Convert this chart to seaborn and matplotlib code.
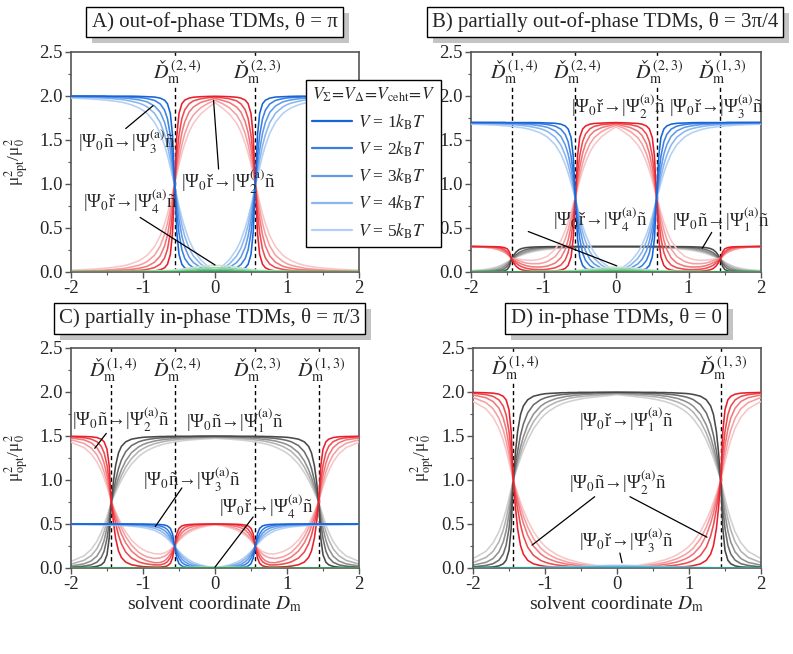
import matplotlib
matplotlib.use("Agg")
import matplotlib.pyplot as plt
import matplotlib.ticker as mticker
from matplotlib.lines import Line2D
from matplotlib.patches import Rectangle
from matplotlib.transforms import IdentityTransform
import pandas as pd
import seaborn as sns

# ---- data (half curves for Dm >= 0, the panels are mirror symmetric) ----
v_levels = ["1", "2", "3", "4", "5"]

x_half = [0, 0.1, 0.2, 0.3, 0.36, 0.42, 0.46, 0.5, 0.53, 0.56, 0.59, 0.62, 0.66, 0.7, 0.76, 0.84, 0.94,
          1.0, 1.06, 1.16, 1.24, 1.3, 1.34, 1.38, 1.41, 1.44, 1.47, 1.5, 1.54, 1.58, 1.64, 1.72, 1.82, 2.0]
x_small = [0, 0.1, 0.2, 0.3, 0.4, 0.5, 0.6, 0.8, 1.0, 1.3, 1.6, 2.0]

# A) out-of-phase, theta = pi
a_blue = [
    [0.0, 0.002, 0.006, 0.013, 0.023, 0.047, 0.087, 0.2, 0.446, 1.0, 1.554, 1.8, 1.912, 1.952, 1.976, 1.988, 1.992, 1.994, 1.996, 1.998, 1.998, 1.998, 1.998, 1.998, 1.998, 1.998, 1.998, 1.998, 2.0, 2.0, 2.0, 2.0, 2.0, 2.0],
    [0.0, 0.009, 0.023, 0.049, 0.084, 0.154, 0.252, 0.442, 0.68, 0.997, 1.313, 1.551, 1.741, 1.839, 1.909, 1.95, 1.97, 1.978, 1.982, 1.986, 1.99, 1.99, 1.992, 1.992, 1.992, 1.993, 1.994, 1.994, 1.995, 1.995, 1.995, 1.996, 1.997, 1.998],
    [0.0, 0.022, 0.051, 0.107, 0.169, 0.282, 0.409, 0.597, 0.782, 0.992, 1.202, 1.386, 1.575, 1.70, 1.813, 1.887, 1.932, 1.946, 1.956, 1.968, 1.975, 1.977, 1.979, 1.981, 1.981, 1.983, 1.983, 1.983, 1.986, 1.986, 1.988, 1.988, 1.99, 1.993],
    [0.0, 0.038, 0.092, 0.181, 0.269, 0.406, 0.533, 0.695, 0.835, 0.984, 1.133, 1.274, 1.435, 1.561, 1.697, 1.804, 1.875, 1.902, 1.92, 1.94, 1.953, 1.96, 1.962, 1.966, 1.969, 1.971, 1.971, 1.974, 1.976, 1.978, 1.98, 1.983, 1.985, 1.988],
    [0.0, 0.064, 0.14, 0.258, 0.362, 0.504, 0.618, 0.75, 0.86, 0.972, 1.083, 1.19, 1.324, 1.438, 1.576, 1.702, 1.8, 1.837, 1.866, 1.9, 1.919, 1.93, 1.934, 1.94, 1.944, 1.946, 1.948, 1.952, 1.955, 1.957, 1.962, 1.966, 1.97, 1.976],
]
a_red = [
    [1.997, 1.995, 1.992, 1.986, 1.976, 1.953, 1.913, 1.8, 1.554, 1.0, 0.446, 0.2, 0.088, 0.048, 0.024, 0.012, 0.008, 0.006, 0.004, 0.002, 0.002, 0.002, 0.002, 0.002, 0.002, 0.002, 0.002, 0.002, 0.0, 0.0, 0.0, 0.0, 0.0, 0.0],
    [1.988, 1.98, 1.968, 1.945, 1.911, 1.842, 1.745, 1.556, 1.318, 1.001, 0.686, 0.448, 0.258, 0.16, 0.09, 0.05, 0.03, 0.022, 0.018, 0.014, 0.01, 0.01, 0.008, 0.008, 0.008, 0.007, 0.006, 0.006, 0.005, 0.005, 0.005, 0.004, 0.003, 0.002],
    [1.972, 1.951, 1.926, 1.875, 1.817, 1.707, 1.582, 1.396, 1.212, 1.003, 0.793, 0.61, 0.421, 0.297, 0.184, 0.111, 0.066, 0.052, 0.042, 0.03, 0.024, 0.022, 0.02, 0.018, 0.018, 0.016, 0.016, 0.016, 0.013, 0.013, 0.011, 0.011, 0.009, 0.006],
    [1.951, 1.915, 1.866, 1.785, 1.702, 1.57, 1.447, 1.288, 1.15, 1.003, 0.855, 0.715, 0.555, 0.43, 0.296, 0.19, 0.12, 0.094, 0.076, 0.057, 0.044, 0.037, 0.035, 0.031, 0.028, 0.026, 0.026, 0.023, 0.022, 0.02, 0.018, 0.015, 0.013, 0.01],
    [1.925, 1.864, 1.795, 1.69, 1.593, 1.459, 1.35, 1.222, 1.115, 1.006, 0.897, 0.792, 0.66, 0.548, 0.412, 0.288, 0.192, 0.156, 0.128, 0.095, 0.076, 0.066, 0.062, 0.056, 0.052, 0.05, 0.048, 0.045, 0.042, 0.04, 0.035, 0.031, 0.027, 0.021],
]
a_green = [
    [0.003, 0.003, 0.002, 0.001, 0.001, 0.0, 0.0, 0.0, 0.0, 0.0, 0.0, 0.0],
    [0.012, 0.011, 0.009, 0.006, 0.004, 0.002, 0.002, 0.001, 0.001, 0.001, 0.0, 0.0],
    [0.028, 0.027, 0.023, 0.018, 0.013, 0.007, 0.005, 0.003, 0.002, 0.001, 0.001, 0.001],
    [0.049, 0.047, 0.042, 0.034, 0.026, 0.017, 0.012, 0.007, 0.004, 0.003, 0.002, 0.002],
    [0.075, 0.072, 0.065, 0.052, 0.04, 0.028, 0.02, 0.012, 0.007, 0.005, 0.004, 0.003],
]

# B) partially out-of-phase, theta = 3pi/4
b_blue = [
    [0.0, 0.002, 0.005, 0.011, 0.02, 0.04, 0.074, 0.17, 0.379, 0.85, 1.321, 1.53, 1.625, 1.659, 1.68, 1.69, 1.693, 1.695, 1.697, 1.698, 1.698, 1.698, 1.698, 1.698, 1.698, 1.698, 1.698, 1.698, 1.7, 1.7, 1.7, 1.7, 1.7, 1.7],
    [0.0, 0.008, 0.02, 0.042, 0.071, 0.131, 0.214, 0.376, 0.578, 0.847, 1.116, 1.318, 1.48, 1.563, 1.623, 1.658, 1.675, 1.681, 1.685, 1.688, 1.692, 1.692, 1.693, 1.693, 1.693, 1.694, 1.695, 1.695, 1.696, 1.696, 1.696, 1.697, 1.697, 1.698],
    [0.0, 0.019, 0.043, 0.091, 0.144, 0.24, 0.348, 0.507, 0.665, 0.843, 1.022, 1.178, 1.339, 1.445, 1.541, 1.604, 1.642, 1.654, 1.663, 1.673, 1.679, 1.68, 1.682, 1.684, 1.684, 1.686, 1.686, 1.686, 1.688, 1.688, 1.69, 1.69, 1.692, 1.694],
    [0.0, 0.032, 0.078, 0.154, 0.229, 0.345, 0.453, 0.591, 0.71, 0.836, 0.963, 1.083, 1.22, 1.327, 1.442, 1.533, 1.594, 1.617, 1.632, 1.649, 1.66, 1.666, 1.668, 1.671, 1.674, 1.675, 1.675, 1.678, 1.68, 1.681, 1.683, 1.686, 1.687, 1.69],
    [0.0, 0.054, 0.119, 0.219, 0.308, 0.428, 0.525, 0.638, 0.731, 0.826, 0.921, 1.012, 1.125, 1.222, 1.34, 1.447, 1.53, 1.561, 1.586, 1.615, 1.631, 1.641, 1.644, 1.649, 1.652, 1.654, 1.656, 1.659, 1.662, 1.663, 1.668, 1.671, 1.675, 1.68],
]
b_red = [
    [1.698, 1.696, 1.692, 1.688, 1.68, 1.659, 1.625, 1.53, 1.321, 0.85, 0.379, 0.17, 0.075, 0.041, 0.021, 0.012, 0.009, 0.008, 0.008, 0.009, 0.015, 0.025, 0.039, 0.067, 0.101, 0.147, 0.227, 0.263, 0.277, 0.283, 0.287, 0.288, 0.289, 0.29],
    [1.692, 1.682, 1.673, 1.655, 1.627, 1.568, 1.484, 1.323, 1.121, 0.852, 0.584, 0.382, 0.221, 0.138, 0.079, 0.047, 0.032, 0.027, 0.027, 0.031, 0.042, 0.06, 0.076, 0.102, 0.125, 0.15, 0.194, 0.228, 0.256, 0.27, 0.28, 0.286, 0.288, 0.29],
    [1.681, 1.662, 1.64, 1.601, 1.551, 1.456, 1.349, 1.19, 1.034, 0.852, 0.678, 0.521, 0.362, 0.256, 0.162, 0.101, 0.068, 0.06, 0.056, 0.059, 0.072, 0.089, 0.105, 0.123, 0.14, 0.152, 0.185, 0.212, 0.238, 0.257, 0.271, 0.282, 0.286, 0.289],
    [1.667, 1.637, 1.595, 1.527, 1.456, 1.343, 1.236, 1.1, 0.981, 0.852, 0.733, 0.615, 0.48, 0.374, 0.262, 0.175, 0.122, 0.105, 0.095, 0.094, 0.102, 0.116, 0.129, 0.142, 0.15, 0.152, 0.18, 0.203, 0.225, 0.241, 0.26, 0.274, 0.283, 0.29],
    [1.65, 1.598, 1.538, 1.446, 1.362, 1.247, 1.153, 1.043, 0.95, 0.853, 0.765, 0.675, 0.565, 0.472, 0.358, 0.258, 0.182, 0.16, 0.143, 0.132, 0.135, 0.14, 0.145, 0.15, 0.152, 0.155, 0.18, 0.2, 0.222, 0.238, 0.255, 0.27, 0.281, 0.29],
]
b_gray = [
    [0.29, 0.29, 0.29, 0.29, 0.29, 0.29, 0.29, 0.29, 0.29, 0.29, 0.29, 0.29, 0.29, 0.289, 0.289, 0.288, 0.288, 0.287, 0.286, 0.283, 0.277, 0.267, 0.253, 0.225, 0.191, 0.145, 0.065, 0.029, 0.013, 0.007, 0.003, 0.002, 0.001, 0.001],
    [0.289, 0.289, 0.289, 0.289, 0.288, 0.288, 0.288, 0.288, 0.288, 0.287, 0.287, 0.287, 0.287, 0.286, 0.286, 0.284, 0.282, 0.28, 0.277, 0.269, 0.255, 0.237, 0.219, 0.193, 0.17, 0.145, 0.099, 0.065, 0.037, 0.023, 0.013, 0.007, 0.004, 0.002],
    [0.288, 0.288, 0.287, 0.287, 0.286, 0.286, 0.286, 0.285, 0.285, 0.284, 0.284, 0.284, 0.283, 0.282, 0.281, 0.279, 0.275, 0.271, 0.266, 0.253, 0.235, 0.216, 0.199, 0.179, 0.162, 0.145, 0.115, 0.088, 0.061, 0.042, 0.026, 0.015, 0.009, 0.004],
    [0.287, 0.286, 0.285, 0.284, 0.284, 0.283, 0.283, 0.282, 0.282, 0.281, 0.281, 0.28, 0.279, 0.278, 0.276, 0.273, 0.267, 0.262, 0.256, 0.24, 0.222, 0.203, 0.188, 0.172, 0.159, 0.145, 0.124, 0.103, 0.08, 0.062, 0.042, 0.027, 0.017, 0.008],
    [0.285, 0.284, 0.283, 0.282, 0.281, 0.28, 0.279, 0.278, 0.278, 0.277, 0.276, 0.275, 0.274, 0.273, 0.27, 0.266, 0.258, 0.252, 0.245, 0.228, 0.21, 0.193, 0.18, 0.166, 0.156, 0.145, 0.129, 0.114, 0.095, 0.078, 0.059, 0.041, 0.027, 0.015],
]
b_green = [
    [0.002, 0.002, 0.001, 0.001, 0.0, 0.0, 0.0, 0.0, 0.0, 0.0, 0.0, 0.0],
    [0.009, 0.008, 0.006, 0.004, 0.003, 0.002, 0.001, 0.001, 0.0, 0.0, 0.0, 0.0],
    [0.02, 0.019, 0.017, 0.013, 0.009, 0.005, 0.004, 0.002, 0.001, 0.001, 0.001, 0.001],
    [0.036, 0.035, 0.031, 0.025, 0.019, 0.013, 0.009, 0.005, 0.003, 0.002, 0.002, 0.001],
    [0.055, 0.053, 0.048, 0.038, 0.03, 0.021, 0.015, 0.009, 0.006, 0.004, 0.003, 0.002],
]

# C) partially in-phase, theta = pi/3
c_red = [
    [0.5, 0.499, 0.498, 0.497, 0.494, 0.488, 0.478, 0.45, 0.389, 0.252, 0.115, 0.053, 0.025, 0.016, 0.01, 0.01, 0.013, 0.016, 0.022, 0.037, 0.067, 0.12, 0.193, 0.336, 0.514, 0.751, 1.166, 1.35, 1.434, 1.464, 1.482, 1.491, 1.494, 1.497],
    [0.5, 0.498, 0.495, 0.49, 0.481, 0.464, 0.44, 0.393, 0.333, 0.254, 0.178, 0.118, 0.072, 0.05, 0.035, 0.035, 0.045, 0.055, 0.07, 0.113, 0.181, 0.275, 0.371, 0.506, 0.622, 0.752, 0.988, 1.167, 1.309, 1.383, 1.435, 1.465, 1.48, 1.492],
    [0.498, 0.494, 0.487, 0.472, 0.457, 0.43, 0.399, 0.352, 0.305, 0.252, 0.202, 0.158, 0.112, 0.082, 0.062, 0.06, 0.08, 0.1, 0.125, 0.193, 0.285, 0.387, 0.474, 0.578, 0.663, 0.752, 0.911, 1.049, 1.19, 1.284, 1.367, 1.423, 1.456, 1.478],
    [0.495, 0.488, 0.473, 0.448, 0.425, 0.393, 0.362, 0.322, 0.288, 0.253, 0.222, 0.192, 0.158, 0.135, 0.115, 0.108, 0.125, 0.148, 0.178, 0.26, 0.356, 0.455, 0.53, 0.616, 0.683, 0.752, 0.866, 0.971, 1.09, 1.185, 1.285, 1.364, 1.416, 1.458],
    [0.49, 0.479, 0.46, 0.43, 0.405, 0.372, 0.345, 0.313, 0.284, 0.256, 0.232, 0.21, 0.188, 0.172, 0.16, 0.162, 0.185, 0.208, 0.24, 0.318, 0.41, 0.497, 0.564, 0.637, 0.694, 0.751, 0.845, 0.922, 1.02, 1.104, 1.205, 1.297, 1.368, 1.43],
]
c_gray = [
    [1.499, 1.499, 1.499, 1.497, 1.497, 1.497, 1.497, 1.497, 1.497, 1.496, 1.496, 1.496, 1.496, 1.494, 1.494, 1.491, 1.488, 1.485, 1.479, 1.464, 1.434, 1.382, 1.308, 1.166, 0.987, 0.75, 0.335, 0.15, 0.066, 0.036, 0.018, 0.009, 0.006, 0.003],
    [1.496, 1.494, 1.493, 1.493, 1.491, 1.49, 1.49, 1.488, 1.488, 1.487, 1.485, 1.485, 1.484, 1.481, 1.478, 1.472, 1.46, 1.449, 1.434, 1.391, 1.322, 1.227, 1.131, 0.996, 0.881, 0.75, 0.513, 0.335, 0.192, 0.119, 0.066, 0.036, 0.021, 0.009],
    [1.49, 1.488, 1.485, 1.484, 1.481, 1.479, 1.478, 1.475, 1.473, 1.472, 1.47, 1.467, 1.464, 1.461, 1.454, 1.443, 1.421, 1.403, 1.377, 1.31, 1.218, 1.116, 1.029, 0.926, 0.84, 0.75, 0.593, 0.455, 0.314, 0.219, 0.135, 0.08, 0.047, 0.023],
    [1.482, 1.479, 1.476, 1.472, 1.469, 1.466, 1.463, 1.46, 1.458, 1.455, 1.452, 1.449, 1.445, 1.439, 1.428, 1.412, 1.382, 1.356, 1.325, 1.244, 1.148, 1.05, 0.974, 0.888, 0.821, 0.75, 0.639, 0.534, 0.414, 0.32, 0.219, 0.14, 0.087, 0.044],
    [1.473, 1.469, 1.464, 1.458, 1.454, 1.449, 1.445, 1.44, 1.437, 1.433, 1.428, 1.424, 1.418, 1.41, 1.397, 1.374, 1.335, 1.305, 1.266, 1.181, 1.086, 0.998, 0.932, 0.861, 0.806, 0.75, 0.668, 0.588, 0.489, 0.405, 0.303, 0.21, 0.138, 0.075],
]
c_blue = [
    [0.0, 0.001, 0.002, 0.003, 0.006, 0.012, 0.022, 0.05, 0.112, 0.25, 0.389, 0.45, 0.478, 0.488, 0.494, 0.497, 0.498, 0.499, 0.499, 0.5, 0.5, 0.5, 0.5, 0.5, 0.5, 0.5, 0.5, 0.5, 0.5, 0.5, 0.5, 0.5, 0.5, 0.5],
    [0.0, 0.002, 0.006, 0.012, 0.021, 0.039, 0.063, 0.111, 0.17, 0.249, 0.328, 0.388, 0.435, 0.46, 0.477, 0.488, 0.493, 0.495, 0.496, 0.497, 0.498, 0.498, 0.498, 0.498, 0.498, 0.498, 0.499, 0.499, 0.499, 0.499, 0.499, 0.499, 0.499, 0.5],
    [0.0, 0.006, 0.013, 0.027, 0.042, 0.071, 0.102, 0.149, 0.196, 0.248, 0.301, 0.347, 0.394, 0.425, 0.453, 0.472, 0.483, 0.487, 0.489, 0.492, 0.494, 0.494, 0.495, 0.495, 0.495, 0.496, 0.496, 0.496, 0.497, 0.497, 0.497, 0.497, 0.498, 0.498],
    [0.0, 0.01, 0.023, 0.045, 0.067, 0.102, 0.133, 0.174, 0.209, 0.246, 0.283, 0.319, 0.359, 0.39, 0.424, 0.451, 0.469, 0.476, 0.48, 0.485, 0.488, 0.49, 0.491, 0.492, 0.492, 0.493, 0.493, 0.494, 0.494, 0.495, 0.495, 0.496, 0.496, 0.497],
    [0.0, 0.016, 0.035, 0.065, 0.091, 0.126, 0.155, 0.188, 0.215, 0.243, 0.271, 0.298, 0.331, 0.36, 0.394, 0.426, 0.45, 0.459, 0.467, 0.475, 0.48, 0.483, 0.484, 0.485, 0.486, 0.487, 0.487, 0.488, 0.489, 0.489, 0.491, 0.492, 0.493, 0.494],
]
c_green = [
    [0.001, 0.001, 0.001, 0.001, 0.001, 0.0, 0.0, 0.0, 0.0, 0.0, 0.0, 0.0],
    [0.002, 0.002, 0.002, 0.001, 0.001, 0.001, 0.001, 0.0, 0.0, 0.0, 0.0, 0.0],
    [0.004, 0.004, 0.003, 0.003, 0.002, 0.002, 0.001, 0.001, 0.001, 0.001, 0.0, 0.0],
    [0.006, 0.006, 0.005, 0.004, 0.004, 0.003, 0.002, 0.002, 0.001, 0.001, 0.001, 0.001],
    [0.01, 0.01, 0.009, 0.008, 0.006, 0.004, 0.003, 0.002, 0.002, 0.002, 0.002, 0.002],
]

# D) in-phase, theta = 0
d_red = [
    [0.0, 0.001, 0.001, 0.002, 0.003, 0.003, 0.003, 0.003, 0.003, 0.005, 0.005, 0.005, 0.005, 0.007, 0.007, 0.011, 0.015, 0.019, 0.027, 0.047, 0.087, 0.157, 0.255, 0.445, 0.683, 0.999, 1.553, 1.799, 1.911, 1.951, 1.975, 1.987, 1.991, 1.995],
    [0.0, 0.002, 0.005, 0.005, 0.008, 0.01, 0.01, 0.012, 0.012, 0.014, 0.016, 0.016, 0.019, 0.023, 0.027, 0.035, 0.051, 0.066, 0.086, 0.144, 0.236, 0.362, 0.49, 0.67, 0.824, 0.998, 1.314, 1.552, 1.742, 1.84, 1.91, 1.95, 1.97, 1.987],
    [0.0, 0.003, 0.008, 0.012, 0.016, 0.019, 0.021, 0.026, 0.028, 0.03, 0.032, 0.037, 0.041, 0.045, 0.056, 0.07, 0.1, 0.125, 0.159, 0.249, 0.372, 0.508, 0.624, 0.762, 0.876, 0.996, 1.206, 1.39, 1.578, 1.704, 1.816, 1.891, 1.935, 1.967],
    [0.0, 0.007, 0.013, 0.021, 0.026, 0.031, 0.036, 0.041, 0.043, 0.047, 0.052, 0.056, 0.062, 0.071, 0.086, 0.108, 0.149, 0.183, 0.226, 0.334, 0.463, 0.593, 0.695, 0.81, 0.9, 0.994, 1.142, 1.282, 1.442, 1.568, 1.702, 1.809, 1.879, 1.938],
    [0.0, 0.009, 0.02, 0.031, 0.038, 0.046, 0.052, 0.059, 0.064, 0.071, 0.077, 0.084, 0.092, 0.103, 0.122, 0.153, 0.206, 0.247, 0.299, 0.414, 0.541, 0.659, 0.748, 0.842, 0.916, 0.99, 1.101, 1.207, 1.339, 1.451, 1.588, 1.712, 1.809, 1.893],
]
d_gray = [
    [1.998, 1.998, 1.998, 1.997, 1.996, 1.996, 1.996, 1.996, 1.996, 1.994, 1.994, 1.994, 1.994, 1.992, 1.992, 1.988, 1.984, 1.98, 1.972, 1.952, 1.912, 1.842, 1.744, 1.554, 1.316, 1.0, 0.446, 0.2, 0.088, 0.048, 0.024, 0.012, 0.008, 0.004],
    [1.995, 1.993, 1.99, 1.991, 1.988, 1.986, 1.986, 1.985, 1.985, 1.983, 1.981, 1.981, 1.978, 1.975, 1.971, 1.963, 1.947, 1.933, 1.913, 1.855, 1.763, 1.637, 1.509, 1.329, 1.175, 1.001, 0.685, 0.447, 0.257, 0.159, 0.089, 0.049, 0.029, 0.012],
    [1.988, 1.985, 1.981, 1.978, 1.975, 1.973, 1.972, 1.967, 1.966, 1.964, 1.963, 1.958, 1.954, 1.951, 1.94, 1.927, 1.897, 1.873, 1.839, 1.749, 1.626, 1.49, 1.374, 1.237, 1.123, 1.003, 0.793, 0.609, 0.421, 0.295, 0.183, 0.108, 0.064, 0.032],
    [1.98, 1.973, 1.968, 1.962, 1.958, 1.955, 1.951, 1.947, 1.946, 1.943, 1.938, 1.935, 1.93, 1.921, 1.907, 1.886, 1.846, 1.813, 1.77, 1.663, 1.534, 1.405, 1.303, 1.188, 1.098, 1.004, 0.857, 0.717, 0.557, 0.431, 0.297, 0.19, 0.12, 0.061],
    [1.97, 1.961, 1.952, 1.943, 1.938, 1.932, 1.927, 1.921, 1.917, 1.911, 1.906, 1.9, 1.893, 1.883, 1.866, 1.837, 1.786, 1.746, 1.695, 1.581, 1.455, 1.338, 1.249, 1.155, 1.081, 1.007, 0.897, 0.792, 0.66, 0.548, 0.411, 0.287, 0.19, 0.106],
]
d_blue = [
    [0.001, 0.001, 0.001, 0.001, 0.001, 0.001, 0.0, 0.0, 0.0, 0.0, 0.0, 0.0],
    [0.005, 0.005, 0.005, 0.004, 0.003, 0.003, 0.002, 0.002, 0.001, 0.001, 0.0, 0.0],
    [0.012, 0.012, 0.011, 0.01, 0.008, 0.007, 0.006, 0.004, 0.002, 0.002, 0.001, 0.001],
    [0.02, 0.02, 0.019, 0.016, 0.014, 0.012, 0.01, 0.006, 0.004, 0.003, 0.002, 0.001],
    [0.03, 0.03, 0.028, 0.025, 0.022, 0.019, 0.016, 0.01, 0.007, 0.004, 0.003, 0.002],
]
d_green = [
    [0.002, 0.002, 0.002, 0.002, 0.002, 0.002, 0.002, 0.002, 0.002, 0.002, 0.002, 0.002],
    [0.002, 0.002, 0.002, 0.002, 0.002, 0.002, 0.002, 0.002, 0.002, 0.002, 0.002, 0.002],
    [0.003, 0.003, 0.003, 0.003, 0.002, 0.002, 0.002, 0.002, 0.002, 0.002, 0.002, 0.002],
    [0.003, 0.003, 0.003, 0.003, 0.003, 0.002, 0.002, 0.002, 0.002, 0.002, 0.002, 0.002],
    [0.004, 0.004, 0.004, 0.003, 0.003, 0.003, 0.002, 0.002, 0.002, 0.002, 0.002, 0.002],
]

# crossing points of the diabatic states
dm_a = [-0.56, 0.56]
dm_a_labels = ["(2,4)", "(2,3)"]
dm_bc = [-1.44, -0.56, 0.56, 1.44]
dm_bc_labels = ["(1,4)", "(2,4)", "(2,3)", "(1,3)"]
dm_d = [-1.44, 1.44]
dm_d_labels = ["(1,4)", "(1,3)"]

# ---- styling ----
blues = ["#1565d8", "#3b7fe0", "#629ae7", "#8ab6ee", "#b3cff5"]
reds = ["#e8202a", "#ec4c52", "#f0777b", "#f4a0a2", "#f8c6c7"]
grays = ["#484848", "#6c6c6c", "#909090", "#b2b2b2", "#d0d0d0"]
greens = ["#2e9b50", "#55ae6f", "#7dc28f", "#a3d5af", "#c5e5cc"]
teals = ["#1f9e8c", "#4cb1a3", "#78c5ba", "#a3d8d1", "#c6e8e3"]

sns.set_style("ticks")
plt.rcParams["font.family"] = ["Liberation Serif", "DejaVu Serif"]
plt.rcParams["mathtext.fontset"] = "stix"
plt.rcParams["axes.unicode_minus"] = False

W, H = 793, 654
fig = plt.figure(figsize=(W / 100, H / 100), dpi=100)


def px_axes(left, top, right, bottom):
    return fig.add_axes([left / W, 1 - bottom / H, (right - left) / W, (bottom - top) / H])


def mirror(xh, yh):
    x = [-v for v in reversed(xh)] + list(xh[1:])
    y = list(reversed(yh)) + list(yh[1:])
    return x, y


def family(ax, xh, rows, colors, z):
    parts = []
    for lev, yh in zip(v_levels, rows):
        x, y = mirror(xh, yh)
        parts.append(pd.DataFrame({"Dm": x, "mu2": y, "V": lev}))
    df = pd.concat(parts, ignore_index=True)
    sns.lineplot(data=df, x="Dm", y="mu2", hue="V", hue_order=v_levels[::-1],
                 palette=dict(zip(v_levels, colors)), estimator=None, sort=False,
                 legend=False, linewidth=1.15, ax=ax, zorder=z)


def style_axes(ax, dms, dm_labels, label_y, ylab_x=None, xlabel=False):
    ax.set_xlim(-2, 2)
    ax.set_ylim(0, 2.5)
    ax.xaxis.set_major_locator(mticker.MultipleLocator(1))
    ax.xaxis.set_minor_locator(mticker.MultipleLocator(0.5))
    ax.yaxis.set_major_locator(mticker.MultipleLocator(0.5))
    ax.yaxis.set_minor_locator(mticker.MultipleLocator(0.25))
    ax.xaxis.set_major_formatter(mticker.FormatStrFormatter("%d"))
    ax.yaxis.set_major_formatter(mticker.FormatStrFormatter("%.1f"))
    ax.tick_params(which="both", direction="out", color="#555555", labelsize=13.5, pad=2)
    ax.tick_params(which="major", length=4, width=1)
    ax.tick_params(which="minor", length=2.5, width=0.8)
    for s in ax.spines.values():
        s.set_color("#555555")
        s.set_linewidth(1.2)
    if ylab_x is None:
        ax.set_ylabel("")
    else:
        ax.set_ylabel("μ$^2_{\\rm opt}$/μ$^2_0$", fontsize=12.5)
        ax.yaxis.set_label_coords(ylab_x, 0.5)
    if xlabel:
        ax.set_xlabel("solvent coordinate $D_{\\rm m}$", fontsize=14, labelpad=1)
    else:
        ax.set_xlabel("")
    for x0, lab in zip(dms, dm_labels):
        ax.axvline(x0, color="black", lw=1.0, ls=(0, (3, 2.2)), zorder=1)
        ax.text(x0 + 0.03, label_y, "$\\mathit{Ď}_{\\rm m}^{" + lab + "}$", ha="center", va="center",
                fontsize=14.5, zorder=5,
                bbox=dict(boxstyle="square,pad=0.05", fc="white", ec="none"))


def note(ax, s, xy, line=None):
    ax.text(xy[0], xy[1], s, ha="center", va="center", fontsize=13.5, zorder=6)
    if line is not None:
        for seg in line:
            ax.annotate("", xy=seg[1], xytext=seg[0],
                        arrowprops=dict(arrowstyle="-", lw=0.9, color="black",
                                        shrinkA=0, shrinkB=0), zorder=6)


titles = []


def title_box(cx, cy, s):
    t = fig.text(cx / W, 1 - cy / H, s, ha="center", va="center", fontsize=15, zorder=4,
                 bbox=dict(boxstyle="square,pad=0.25", fc="white", ec="black", lw=1))
    titles.append(t)


lab_n3 = "|Ψ$_0$ñ→|Ψ$_3^{(\\rm a)}$ñ"
lab_r2 = "|Ψ$_0$ř→|Ψ$_2^{(\\rm a)}$ñ"
lab_r4 = "|Ψ$_0$ř→|Ψ$_4^{(\\rm a)}$ñ"
lab_r3 = "|Ψ$_0$ř→|Ψ$_3^{(\\rm a)}$ñ"
lab_n1 = "|Ψ$_0$ñ→|Ψ$_1^{(\\rm a)}$ñ"
lab_n2 = "|Ψ$_0$ñ→|Ψ$_2^{(\\rm a)}$ñ"
lab_r1 = "|Ψ$_0$ř→|Ψ$_1^{(\\rm a)}$ñ"

# ---- panel A ----
ax_a = px_axes(71, 52, 359, 272)
family(ax_a, x_half, a_red, reds, 2)
family(ax_a, x_half, a_blue, blues, 3)
family(ax_a, x_small, a_green, greens, 4)
style_axes(ax_a, dm_a, dm_a_labels, 2.27, -0.138)
note(ax_a, lab_n3, (-1.22, 1.48), [((-1.24, 1.63), (-0.86, 1.89))])
note(ax_a, lab_r2, (0.18, 1.02), [((0.05, 1.17), (-0.02, 1.95))])
note(ax_a, lab_r4, (-1.18, 0.80), [((-1.04, 0.62), (0.0, 0.08))])

# ---- panel B (its y label sits under the legend) ----
ax_b = px_axes(471, 52, 761, 272)
family(ax_b, x_half, b_gray, grays, 2)
family(ax_b, x_half, b_red, reds, 3)
family(ax_b, x_half, b_blue, blues, 3)
family(ax_b, x_small, b_green, greens, 4)
style_axes(ax_b, dm_bc, dm_bc_labels, 2.27)
note(ax_b, lab_r2, (0.03, 1.875))
note(ax_b, lab_r3, (1.39, 1.875))
note(ax_b, lab_r4, (-0.21, 0.59), [((-1.21, 0.46), (0.01, 0.07))])
note(ax_b, lab_n1, (1.45, 0.59), [((1.32, 0.45), (1.19, 0.27))])

# ---- panel C ----
ax_c = px_axes(71, 348, 359, 568)
family(ax_c, x_half, c_gray, grays, 2)
family(ax_c, x_half, c_red, reds, 3)
family(ax_c, x_half, c_blue, blues, 3)
family(ax_c, x_small, c_green, greens, 4)
style_axes(ax_c, dm_bc, dm_bc_labels, 2.25, -0.138, xlabel=True)
note(ax_c, lab_n2, (-1.31, 1.68), [((-1.51, 1.53), (-1.67, 1.36))])
note(ax_c, lab_n1, (0.28, 1.68))
note(ax_c, lab_n3, (-0.32, 1.0), [((-0.46, 0.91), (-0.83, 0.47))])
note(ax_c, lab_r4, (0.72, 0.69), [((0.53, 0.58), (0.0, 0.01))])

# ---- panel D ----
ax_d = px_axes(473, 348, 761, 568)
family(ax_d, x_half, d_gray, grays, 2)
family(ax_d, x_half, d_red, reds, 3)
family(ax_d, x_small, d_blue, blues, 4)
family(ax_d, x_small, d_green, teals, 4)
style_axes(ax_d, dm_d, dm_d_labels, 2.27, -0.125, xlabel=True)
note(ax_d, lab_r1, (0.125, 1.69))
note(ax_d, lab_n2, (0.01, 0.97), [((-0.31, 0.81), (-1.18, 0.26)), ((0.18, 0.81), (1.25, 0.35))])
note(ax_d, lab_r3, (0.125, 0.31), [((0.04, 0.17), (0.07, 0.06))])

# ---- titles with a drop shadow ----
title_box(214.5, 22, "A) out-of-phase TDMs, θ = π")
title_box(605, 22, "B) partially out-of-phase TDMs, θ = 3π/4")
title_box(209.5, 318.5, "C) partially in-phase TDMs, θ = π/3")
title_box(616, 318.5, "D) in-phase TDMs, θ = 0")

# ---- legend ----
handles = [Line2D([0], [0], color=c, lw=1.6) for c in blues]
labels = ["$V$ = %s$k_{\\rm B}T$" % v for v in v_levels]
leg = fig.legend(handles, labels, loc="upper left", bbox_to_anchor=(306 / W, 1 - 80 / H),
                 title="$V_\\Sigma\\!=\\!V_\\Delta\\!=\\!V_{\\rm ceht}\\!=\\!V$", alignment="left",
                 fontsize=12.5, title_fontsize=12.5, frameon=True, fancybox=False,
                 edgecolor="black", framealpha=1, handlelength=2.3, handletextpad=0.35,
                 labelspacing=0.45, borderpad=0.35, borderaxespad=0)
leg.get_frame().set_linewidth(1.0)

fig.canvas.draw()
for t in titles:
    bb = t.get_bbox_patch().get_window_extent()
    fig.add_artist(Rectangle((bb.x0 + 6, bb.y0 - 6), bb.width, bb.height, transform=IdentityTransform(),
                             fc="#c4c4c4", ec="none", zorder=3))

fig.savefig("out.png", dpi=100)
